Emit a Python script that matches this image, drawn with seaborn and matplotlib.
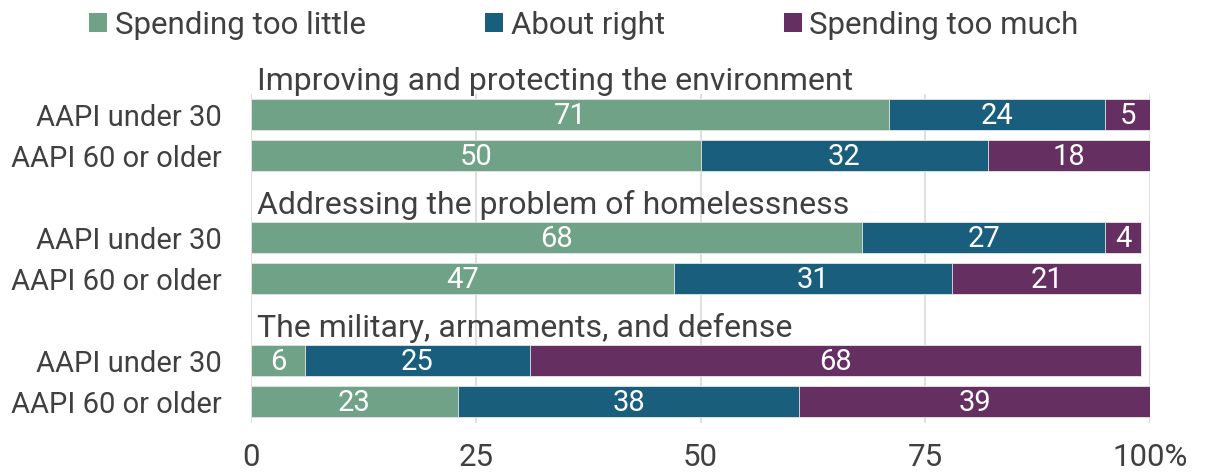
import matplotlib
matplotlib.use("Agg")
import matplotlib.pyplot as plt
from matplotlib.patches import Patch
import seaborn as sns
import pandas as pd

# Survey responses (percent)
topics = [
    "Improving and protecting the environment",
    "Addressing the problem of homelessness",
    "The military, armaments, and defense",
]
groups = ["AAPI under 30", "AAPI 60 or older"]
too_little = [71, 50, 68, 47, 6, 23]
about_right = [24, 32, 27, 31, 25, 38]
too_much = [5, 18, 4, 21, 68, 39]

series_names = ["Spending too little", "About right", "Spending too much"]
colors = ["#6FA287", "#1A5E7E", "#652F61"]
text_color = "#404040"

sns.set_theme(style="white")
plt.rcParams["font.family"] = ["Roboto", "DejaVu Sans"]

# Each topic takes a header row followed by one row per group
positions = []
labels = []
header_rows = []
row = 0
for t in topics:
    header_rows.append(row)
    row += 1
    for g in groups:
        positions.append(row)
        labels.append(g)
        row += 1

df = pd.DataFrame({
    "pos": positions,
    "label": labels,
    "little": too_little,
    "right": about_right,
    "much": too_much,
})
df["cum1"] = df["little"]
df["cum2"] = df["little"] + df["right"]
df["cum3"] = df["cum2"] + df["much"]

fig = plt.figure(figsize=(12.05, 4.72), dpi=100)
ax = fig.add_axes([251 / 1205, 1 - 423 / 472, (1150 - 251) / 1205, (423 - 94) / 472])

# Stacked bars drawn back-to-front from cumulative totals
for col, color in zip(["cum3", "cum2", "cum1"], colors[::-1]):
    sns.barplot(data=df, x=col, y="pos", orient="h", native_scale=True,
                color=color, saturation=1, width=0.76, ax=ax,
                edgecolor="#E8E8E8", linewidth=0.6, zorder=2)

# Segment value labels
for _, r in df.iterrows():
    starts = [0, r["cum1"], r["cum2"]]
    vals = [r["little"], r["right"], r["much"]]
    for s, v in zip(starts, vals):
        ax.text(s + v / 2, r["pos"] + 0.03, f"{v:g}", ha="center", va="center",
                color="white", fontsize=21, zorder=3)

# Topic headers
for t, hr in zip(topics, header_rows):
    ax.text(0.7, hr + 0.2, t, ha="left", va="center", color=text_color,
            fontsize=23, clip_on=False, zorder=3)

ax.set_xlim(0, 100)
ax.set_ylim(8.52, 0.5)
ax.set_xticks([0, 25, 50, 75, 100])
ax.set_xticklabels(["0", "25", "50", "75", "100%"])
ax.set_yticks(positions)
ax.set_yticklabels(labels)
ax.tick_params(axis="x", length=0, pad=14.5, labelsize=22.5, labelcolor=text_color)
ax.tick_params(axis="y", length=0, pad=21, labelsize=21, labelcolor=text_color)
ax.set_xlabel("")
ax.set_ylabel("")
ax.grid(axis="x", color="#D9D9D9", linewidth=1.2, zorder=0)
ax.set_axisbelow(True)
for sp in ax.spines.values():
    sp.set_visible(False)

handles = [Patch(facecolor=c, edgecolor="none") for c in colors]
fig.legend(handles, series_names, loc="center", bbox_to_anchor=(0.4846, 1 - 25 / 472),
           ncol=3, frameon=False, fontsize=22.5, handlelength=0.58, handleheight=0.58,
           handletextpad=0.25, columnspacing=3.8, labelcolor=text_color)

fig.savefig("out.png", dpi=100)
